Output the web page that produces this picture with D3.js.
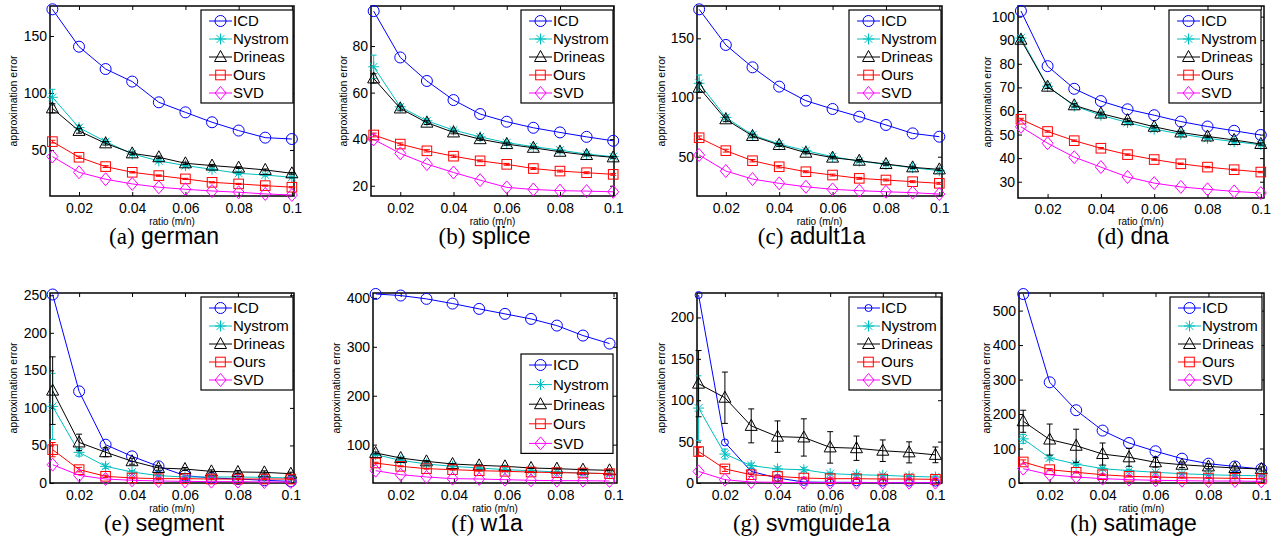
<!DOCTYPE html>
<html>
<head>
<meta charset="utf-8">
<script src="https://cdn.jsdelivr.net/npm/d3@7"></script>
<style>
  body { margin: 0; background: #fff; }
  svg { display: block; }
</style>
</head>
<body>
<div id="chart"></div>
<script>
const methods = ['ICD', 'Nystrom', 'Drineas', 'Ours', 'SVD'];
const colors = ['#0000ff', '#00bfbf', '#000000', '#ff0000', '#ff00ff'];
const shapes = ['circle', 'star', 'triangle', 'square', 'diamond'];

const ratios = [0.01, 0.02, 0.03, 0.04, 0.05, 0.06, 0.07, 0.08, 0.09, 0.1];
const ratiosW1a = [0.0106, 0.0200, 0.0297, 0.0395, 0.0495, 0.0592, 0.0690, 0.0787, 0.0885, 0.0985];
const xTicks = [0.02, 0.04, 0.06, 0.08, 0.1];
const xTickLabels = ['0.02', '0.04', '0.06', '0.08', '0.1'];

// rows follow the order of `methods`
const german = [
  [173.4, 140.6, 121, 110, 91.8, 83, 74.3, 67, 60.8, 59.6],
  [96.2, 69.6, 57.3, 46.5, 40.4, 36.3, 33, 29.5, 28, 26],
  [86.5, 66.7, 55.8, 47, 43.6, 38.3, 36.3, 34.5, 32.5, 29.5],
  [57.3, 43.6, 35.4, 30.4, 27.5, 24.6, 21.6, 20.2, 18.7, 17.3],
  [44.2, 30.4, 24.3, 20.2, 17.3, 15.5, 14, 12.9, 11.4, 10.5]
];
const germanStd = [
  [0, 0, 0, 0, 0, 0, 0, 0, 0, 0],
  [7, 2, 1.5, 1.2, 1, 1, 1, 1, 0.8, 0.8],
  [4, 2, 1.5, 1.2, 1, 1, 1, 0.8, 0.8, 0.8],
  [1.2, 1, 0.8, 0.6, 0.6, 0.5, 0.5, 0.5, 0.5, 0.5],
  [0, 0, 0, 0, 0, 0, 0, 0, 0, 0]
];
const germanTicks = [50, 100, 150];

const splice = [
  [95, 75.1, 65, 56.8, 50.8, 47.5, 44.9, 42.9, 41, 39.3],
  [71.1, 53.9, 47.9, 43.9, 41, 38.5, 36.8, 35.3, 33.6, 32.5],
  [66.1, 53.2, 47.1, 42.9, 40, 37.9, 36.3, 34.6, 33.2, 32.2],
  [41.8, 37.9, 35, 32.7, 30.7, 29.2, 27.4, 26.3, 25.6, 24.9],
  [39.9, 33.9, 29.3, 25.7, 22.4, 19.3, 18.4, 17.9, 17.7, 17.4]
];
const spliceStd = [
  [0, 0, 0, 0, 0, 0, 0, 0, 0, 0],
  [5, 1, 0.8, 0.6, 0.5, 0.5, 0.4, 0.4, 0.4, 0.4],
  [2, 1, 0.8, 0.6, 0.5, 0.5, 0.4, 0.4, 0.4, 0.4],
  [0.8, 0.5, 0.5, 0.5, 0.4, 0.4, 0.4, 0.4, 0.4, 0.4],
  [0, 0, 0, 0, 0, 0, 0, 0, 0, 0]
];
const spliceTicks = [20, 40, 60, 80];

const adult1a = [
  [174.5, 144.4, 125.5, 109.2, 97.3, 90.3, 83.8, 76.8, 69.7, 66.9],
  [112, 83.2, 68.3, 60.7, 55.1, 50, 46.3, 43.5, 40.7, 38.2],
  [108.3, 81.6, 67.5, 59.9, 53.4, 49.2, 46.6, 43.8, 41, 39.3],
  [66, 55.1, 46.6, 41.5, 37.3, 34.5, 31.7, 30.3, 28.9, 27.5],
  [51.4, 37.9, 31.1, 27.5, 24.6, 22.4, 21.3, 20.4, 19.6, 18.4]
];
const adult1aStd = [
  [0, 0, 0, 0, 0, 0, 0, 0, 0, 0],
  [7, 2, 1.5, 1.2, 1, 1, 1, 1, 1, 1],
  [4, 2, 1.5, 1.2, 1, 1, 1, 1, 1, 1],
  [1.5, 1.2, 1, 1, 0.8, 0.8, 0.8, 0.8, 0.8, 0.8],
  [0, 0, 0, 0, 0, 0, 0, 0, 0, 0]
];
const adult1aTicks = [50, 100, 150];

const dna = [
  [102.4, 79, 69.4, 64.2, 60.7, 58.2, 55.5, 53.4, 51.6, 49.8],
  [90.9, 70.5, 62.1, 58.2, 55.1, 52.3, 50.2, 48.4, 47, 45.7],
  [90.2, 70.3, 62.4, 58.9, 56.1, 53.3, 50.9, 49.2, 47.7, 46],
  [56.5, 51.3, 47.4, 44.2, 41.5, 39.4, 37.6, 36.2, 35.1, 34.1],
  [53.3, 46.3, 40.4, 36.2, 32, 29.4, 27.8, 26.8, 25.9, 25.2]
];
const dnaStd = [
  [0, 0, 0, 0, 0, 0, 0, 0, 0, 0],
  [1, 0.8, 0.7, 0.6, 0.6, 0.5, 0.5, 0.5, 0.5, 0.5],
  [1, 0.8, 0.7, 0.6, 0.6, 0.5, 0.5, 0.5, 0.5, 0.5],
  [0.4, 0.3, 0.3, 0.3, 0.3, 0.3, 0.3, 0.3, 0.3, 0.3],
  [0, 0, 0, 0, 0, 0, 0, 0, 0, 0]
];
const dnaTicks = [30, 40, 50, 60, 70, 80, 90, 100];

const segment = [
  [251, 122, 51, 35.5, 22.2, 9.8, 6.7, 5.3, 3.6, 2.2],
  [102, 40.8, 22.2, 14.7, 9.8, 8, 8, 8, 7.5, 6.7],
  [123, 54, 41, 29, 20, 18.6, 15.5, 14.7, 14.2, 12.4],
  [44.4, 17.8, 8.9, 6.7, 5.8, 5.8, 5.3, 5.3, 5.3, 5.3],
  [24.4, 10.2, 5.3, 3.6, 2.7, 2.2, 1.8, 1.8, 1.3, 1.3]
];
const segmentStd = [
  [0, 0, 0, 0, 0, 0, 0, 0, 0, 0],
  [44, 5, 3, 2, 1.5, 1, 1, 1, 1, 1],
  [45, 11, 6, 4, 3, 2, 2, 2, 2, 2],
  [9.5, 3, 1.5, 1, 1, 1, 1, 1, 1, 1],
  [0, 0, 0, 0, 0, 0, 0, 0, 0, 0]
];
const segmentTicks = [0, 50, 100, 150, 200, 250];

const w1a = [
  [408, 404.8, 398, 388.4, 377.5, 367.3, 357, 343.4, 323, 306.6],
  [79.5, 68, 60.5, 55.7, 52.3, 48.9, 46.8, 44, 42, 40.7],
  [83, 72.7, 65.9, 60.5, 57.7, 55.7, 52.3, 50.9, 48.9, 47.5],
  [62.5, 55.7, 50.9, 48.9, 46.8, 45.5, 44, 42.7, 42, 40.7],
  [46.8, 38.6, 33.9, 30.5, 29.8, 28.4, 27, 26.4, 26.4, 25.7]
];
const w1aStd = [
  [0, 0, 0, 0, 0, 0, 0, 0, 0, 0],
  [2, 1.5, 1.5, 1, 1, 1, 1, 1, 1, 1],
  [2, 1.5, 1.5, 1, 1, 1, 1, 1, 1, 1],
  [1.5, 1, 1, 1, 1, 1, 1, 1, 1, 1],
  [0, 0, 0, 0, 0, 0, 0, 0, 0, 0]
];
const w1aTicks = [100, 200, 300, 400];

const svmguide1a = [
  [227, 49, 14, 6, 1.2, 0.8, 0.8, 0.4, 0.4, 0.4],
  [90.5, 35, 21, 17, 16, 11.3, 10, 9.3, 8, 7.2],
  [120, 103, 69, 56, 55, 43, 42, 39, 37, 34],
  [38, 17, 10, 8, 6, 5.2, 5.2, 4.8, 4.8, 4.4],
  [14, 4, 1.2, 0.8, 0.4, 0.4, 0.4, 0.4, 0.4, 0.4]
];
const svmguide1aStd = [
  [0, 0, 0, 0, 0, 0, 0, 0, 0, 0],
  [39, 6, 3, 2.5, 2.5, 1.5, 1.2, 1, 1, 1],
  [40, 31, 20.5, 19, 22.5, 19, 14.7, 13, 12.7, 9.5],
  [5, 3, 2, 1.5, 1, 1, 1, 1, 1, 1],
  [0, 0, 0, 0, 0, 0, 0, 0, 0, 0]
];
const svmguide1aTicks = [0, 50, 100, 150, 200];

const satimage = [
  [548, 292, 211, 152, 116, 92, 70.6, 56, 48, 40.6],
  [128, 72.5, 55, 41.6, 35.8, 31, 27, 24, 22, 21],
  [179, 126, 108, 84, 74.5, 60, 53, 48, 43.5, 40.6],
  [61, 38.7, 31, 24, 19.3, 17.4, 15.5, 14.5, 13.5, 12.6],
  [41.6, 24, 17.4, 12.6, 9.7, 7.7, 6.8, 5.8, 5.8, 4.8]
];
const satimageStd = [
  [0, 0, 0, 0, 0, 0, 0, 0, 0, 0],
  [13, 6, 5, 4, 3, 2, 2, 2, 2, 2],
  [32, 45, 48, 32, 26, 14, 8, 7, 6, 6],
  [6, 3, 2, 2, 2, 1.5, 1.5, 1, 1, 1],
  [0, 0, 0, 0, 0, 0, 0, 0, 0, 0]
];
const satimageTicks = [0, 100, 200, 300, 400, 500];

const panels = [
  { letter: 'a', name: 'german', data: german, std: germanStd, xs: ratios, ticks: germanTicks,
    box: [50, 294, 6, 196], xDomain: [0.0091, 0.1008], yDomain: [9.6, 176.3],
    legend: [293, 10, 18], yLabelX: 13, tickY: 213.5, titleY: 244, labelY: 224.5, circleR: 5.5 },
  { letter: 'b', name: 'splice', data: splice, std: spliceStd, xs: ratios, ticks: spliceTicks,
    box: [371, 614, 6, 196], xDomain: [0.0090, 0.1003], yDomain: [15.6, 97.2],
    legend: [613, 10, 18], yLabelX: 343, tickY: 213.5, titleY: 244, labelY: 224.5, circleR: 5.5 },
  { letter: 'c', name: 'adult1a', data: adult1a, std: adult1aStd, xs: ratios, ticks: adult1aTicks,
    box: [697, 942, 6, 196], xDomain: [0.0092, 0.1010], yDomain: [16.8, 177.3],
    legend: [941, 10, 18], yLabelX: 661, tickY: 213.5, titleY: 244, labelY: 224.5, circleR: 5.5 },
  { letter: 'd', name: 'dna', data: dna, std: dnaStd, xs: ratios, ticks: dnaTicks,
    box: [1018, 1264, 6, 198], xDomain: [0.0089, 0.1012], yDomain: [23.1, 104.5],
    legend: [1261, 10, 18], yLabelX: 987, tickY: 214, titleY: 244, labelY: 224.5, circleR: 5.5 },
  { letter: 'e', name: 'segment', data: segment, std: segmentStd, xs: ratios, ticks: segmentTicks,
    box: [50, 294, 293, 483], xDomain: [0.0090, 0.1012], yDomain: [0, 253],
    legend: [293, 297, 18], yLabelX: 13, tickY: 500.5, titleY: 531, labelY: 511.5, circleR: 5.5 },
  { letter: 'f', name: 'w1a', data: w1a, std: w1aStd, xs: ratiosW1a, ticks: w1aTicks,
    box: [373, 617, 293, 483], xDomain: [0.0096, 0.1013], yDomain: [21.6, 410],
    legend: [613, 354, 19.6], yLabelX: 336, tickY: 500.5, titleY: 531, labelY: 511.5, circleR: 5.5 },
  { letter: 'g', name: 'svmguide1a', data: svmguide1a, std: svmguide1aStd, xs: ratios, ticks: svmguide1aTicks,
    box: [697, 942, 293, 483], xDomain: [0.0094, 0.1025], yDomain: [0, 229.5],
    legend: [941, 297, 18], yLabelX: 661, tickY: 500.5, titleY: 531, labelY: 511.5, circleR: 3.5 },
  { letter: 'h', name: 'satimage', data: satimage, std: satimageStd, xs: ratios, ticks: satimageTicks,
    box: [1019, 1264, 293, 483], xDomain: [0.0084, 0.1010], yDomain: [0, 551],
    legend: [1262, 297, 18], yLabelX: 986, tickY: 500.5, titleY: 531, labelY: 511.5, circleR: 5.5 }
];

const sans = '"Liberation Sans", Arial, Helvetica, sans-serif';
const serif = '"Liberation Serif", "Times New Roman", serif';

const svg = d3
  .select('#chart')
  .append('svg')
  .attr('width', 1278)
  .attr('height', 542);

svg.append('rect').attr('width', 1278).attr('height', 542).attr('fill', '#fff');

function drawMarker(g, shape, cx, cy, color, circleR) {
  const s = g.append('g').attr('transform', `translate(${cx},${cy})`);
  const style = el => el.attr('fill', 'none').attr('stroke', color).attr('stroke-width', 1);
  if (shape === 'circle') {
    style(s.append('circle').attr('r', circleR));
  } else if (shape === 'square') {
    style(s.append('rect').attr('x', -4.8).attr('y', -4.8).attr('width', 9.6).attr('height', 9.6));
  } else if (shape === 'triangle') {
    style(s.append('path').attr('d', 'M0,-6.5L6,4.5L-6,4.5Z'));
  } else if (shape === 'diamond') {
    style(s.append('path').attr('d', 'M0,-6.5L5.5,0L0,6.5L-5.5,0Z'));
  } else {
    style(s.append('path').attr('d', 'M0,-5.5V5.5M-5.5,0H5.5M-3.9,-3.9L3.9,3.9M-3.9,3.9L3.9,-3.9'));
  }
}

function drawPanel(p) {
  const [left, right, top, bottom] = p.box;
  const g = svg.append('g');

  const x = d3.scaleLinear().domain(p.xDomain).range([left, right]);
  const y = d3.scaleLinear().domain(p.yDomain).range([bottom, top]);

  const styleAxis = a => {
    a.attr('font-size', 14).attr('font-family', sans);
    a.select('.domain').remove();
    a.selectAll('.tick line').attr('stroke', '#000');
    a.selectAll('.tick text').attr('fill', '#000');
  };

  // tick text baseline sits at padding + 0.71em below the axis
  g.append('g')
    .attr('transform', `translate(0,${bottom})`)
    .call(d3.axisBottom(x).tickValues(xTicks).tickFormat((d, i) => xTickLabels[i])
      .tickSizeInner(-4).tickSizeOuter(0).tickPadding(p.tickY - bottom - 10))
    .call(styleAxis);
  g.append('g')
    .attr('transform', `translate(0,${top})`)
    .call(d3.axisTop(x).tickValues(xTicks).tickFormat('').tickSizeInner(-4).tickSizeOuter(0))
    .call(styleAxis);
  g.append('g')
    .attr('transform', `translate(${left},0)`)
    .call(d3.axisLeft(y).tickValues(p.ticks).tickFormat(d3.format('d'))
      .tickSizeInner(-4).tickSizeOuter(0).tickPadding(3))
    .call(styleAxis);
  g.append('g')
    .attr('transform', `translate(${right},0)`)
    .call(d3.axisRight(y).tickValues(p.ticks).tickFormat('').tickSizeInner(-4).tickSizeOuter(0))
    .call(styleAxis);

  g.append('rect')
    .attr('x', left).attr('y', top)
    .attr('width', right - left).attr('height', bottom - top)
    .attr('fill', 'none').attr('stroke', '#000').attr('stroke-width', 1.5);

  const line = d3.line().x(d => x(d[0])).y(d => y(d[1]));

  methods.forEach((m, i) => {
    const pts = p.xs.map((xv, k) => [xv, p.data[i][k], p.std[i][k]]);
    const s = g.append('g');
    s.append('path')
      .attr('d', line(pts))
      .attr('fill', 'none')
      .attr('stroke', colors[i])
      .attr('stroke-width', 1);
    pts.filter(d => d[2] > 0).forEach(d => {
      const xp = x(d[0]);
      const y0 = y(d[1] - d[2]);
      const y1 = y(d[1] + d[2]);
      s.append('path')
        .attr('d', `M${xp},${y0}V${y1}M${xp - 3},${y0}H${xp + 3}M${xp - 3},${y1}H${xp + 3}`)
        .attr('fill', 'none')
        .attr('stroke', colors[i])
        .attr('stroke-width', 1);
    });
    pts.forEach(d => drawMarker(s, shapes[i], x(d[0]), y(d[1]), colors[i], p.circleR));
  });

  // legend
  const [lRight, lTop, rowH] = p.legend;
  const lw = 92;
  const lh = 21 + rowH * 4;
  const lLeft = lRight - lw;
  g.append('rect')
    .attr('x', lLeft).attr('y', lTop)
    .attr('width', lw).attr('height', lh)
    .attr('fill', '#fff').attr('stroke', '#000').attr('stroke-width', 1.2);
  methods.forEach((m, i) => {
    const ly = lTop + 11 + i * rowH;
    g.append('line')
      .attr('x1', lLeft + 8).attr('x2', lLeft + 31)
      .attr('y1', ly).attr('y2', ly)
      .attr('stroke', colors[i]).attr('stroke-width', 1);
    drawMarker(g, shapes[i], lLeft + 19.5, ly, colors[i], p.circleR);
    g.append('text')
      .attr('x', lLeft + 32).attr('y', ly)
      .attr('dy', '0.36em')
      .attr('font-family', sans).attr('font-size', 15)
      .text(m);
  });

  // axis labels
  g.append('text')
    .attr('x', (left + right) / 2).attr('y', p.labelY)
    .attr('text-anchor', 'middle')
    .attr('font-family', sans).attr('font-size', 10)
    .text('ratio (m/n)');
  g.append('text')
    .attr('transform', `translate(${p.yLabelX},${(top + bottom) / 2}) rotate(-90)`)
    .attr('dy', '0.35em')
    .attr('text-anchor', 'middle')
    .attr('font-family', sans).attr('font-size', 10.5)
    .text('approximation error');

  // caption
  const t = g.append('text')
    .attr('x', (left + right) / 2 - 8).attr('y', p.titleY)
    .attr('text-anchor', 'middle')
    .attr('font-size', 23);
  t.append('tspan').attr('font-family', serif).text(`(${p.letter})`);
  t.append('tspan').attr('font-family', sans).text(` ${p.name}`);
}

panels.forEach(drawPanel);
</script>
</body>
</html>
